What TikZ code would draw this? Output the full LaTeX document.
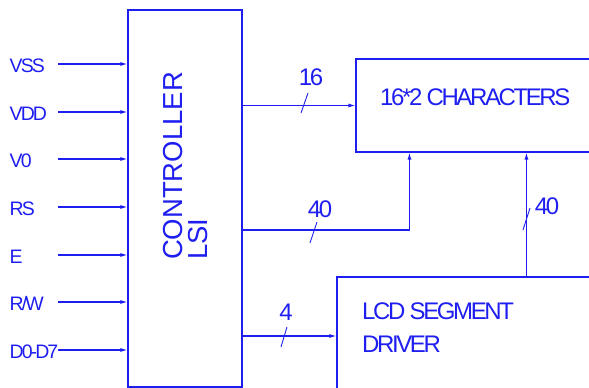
\documentclass[tikz,border=0pt]{standalone}
\usepackage{fontspec}
\usepackage{tikz}
\usetikzlibrary{arrows.meta,positioning,calc}
\newfontfamily\tightfont[LetterSpace=-10]{Liberation Sans}
\newfontfamily\blockfont{Liberation Sans}
\definecolor{lcdblue}{RGB}{30, 30, 240}

\begin{document}
\begin{tikzpicture}[x=1pt, y=-1pt,
    box/.style={rectangle, draw=lcdblue, line width=1.1pt, inner sep=0pt},
    pinlabel/.style={anchor=base west, inner sep=0pt, text=lcdblue, font=\tightfont\fontsize{19.5}{22}\selectfont},
    textlabel/.style={inner sep=0pt, text=lcdblue, font=\tightfont\fontsize{24}{33}\selectfont},
    arrow/.style={line width=1.1pt, -{Latex[length=7pt,width=4pt]}, color=lcdblue},
    busmark/.style={line width=0.9pt, color=lcdblue}
]
    \useasboundingbox (0,0) rectangle (589,388);
    \clip (0,0) rectangle (589,388);

    % blocks
    \node[box, minimum width=114pt, minimum height=377pt] (ctrl) at (185,198.5) {};
    \node[box, minimum width=264pt, minimum height=93pt] (chars) at (488,105.5) {};
    \node[box, minimum width=283pt, minimum height=143pt] (lcd) at (478.5,348.5) {};

    \node[textlabel, font=\blockfont\fontsize{27.5}{25}\selectfont, rotate=90, align=left] (ctrltext) at (185.5,166) {CONTROLLER\\LSI};
    \node[textlabel, anchor=base west] (charstext) at (380,105) {16*2 CHARACTERS};
    \node[textlabel, anchor=north west, align=left] (lcdtext) at (362,302.5) {LCD SEGMENT\\DRIVER};

    % pins
    \node[pinlabel] (vss) at (9.5,72) {VSS};
    \node[pinlabel] (vdd) at (9.5,120) {VDD};
    \node[pinlabel] (vo) at (9.5,167) {V0};
    \node[pinlabel] (rs) at (9.5,215) {RS};
    \node[pinlabel] (en) at (9.5,263) {E};
    \node[pinlabel] (rw) at (9.5,310) {R/W};
    \node[pinlabel] (data) at (9.5,358) {D0-D7};

    \coordinate (vssin) at (58,64);
    \coordinate (vddin) at (58,112);
    \coordinate (voin) at (58,159);
    \coordinate (rsin) at (58,207);
    \coordinate (enin) at (58,255);
    \coordinate (rwin) at (58,302);
    \coordinate (datain) at (58,350);

    \draw[arrow] (vssin) -- (vssin -| ctrl.west);
    \draw[arrow] (vddin) -- (vddin -| ctrl.west);
    \draw[arrow] (voin) -- (voin -| ctrl.west);
    \draw[arrow] (rsin) -- (rsin -| ctrl.west);
    \draw[arrow] (enin) -- (enin -| ctrl.west);
    \draw[arrow] (rwin) -- (rwin -| ctrl.west);
    \draw[arrow] (datain) -- (datain -| ctrl.west);

    % buses
    \coordinate (ctrl40) at ($(ctrl.east)+(0,31.5)$);
    \coordinate (ctrl4) at ($(ctrl.east)+(0,137.5)$);
    \coordinate (chars40a) at ($(chars.south west)+(54,0)$);
    \coordinate (chars40b) at ($(chars.south west)+(171,0)$);

    \draw[arrow] (ctrl.east |- chars.west) -- (chars.west);
    \draw[arrow] (ctrl40) -| (chars40a);
    \draw[arrow] (ctrl4) -- (ctrl4 -| lcd.west);
    \draw[arrow] (chars40b |- lcd.north) -- (chars40b);

    \draw[busmark] (308,93) -- (301,113);
    \draw[busmark] (317,222) -- (310,243);
    \draw[busmark] (287,327) -- (281,347);
    \draw[busmark] (530,208) -- (523,230);

    \node[textlabel, anchor=base] (n16) at (311,85) {16};
    \node[textlabel, anchor=base] (n40a) at (320,217) {40};
    \node[textlabel, anchor=base] (n4) at (286,320) {4};
    \node[textlabel, anchor=base] (n40b) at (547,214) {40};
\end{tikzpicture}
\end{document}
